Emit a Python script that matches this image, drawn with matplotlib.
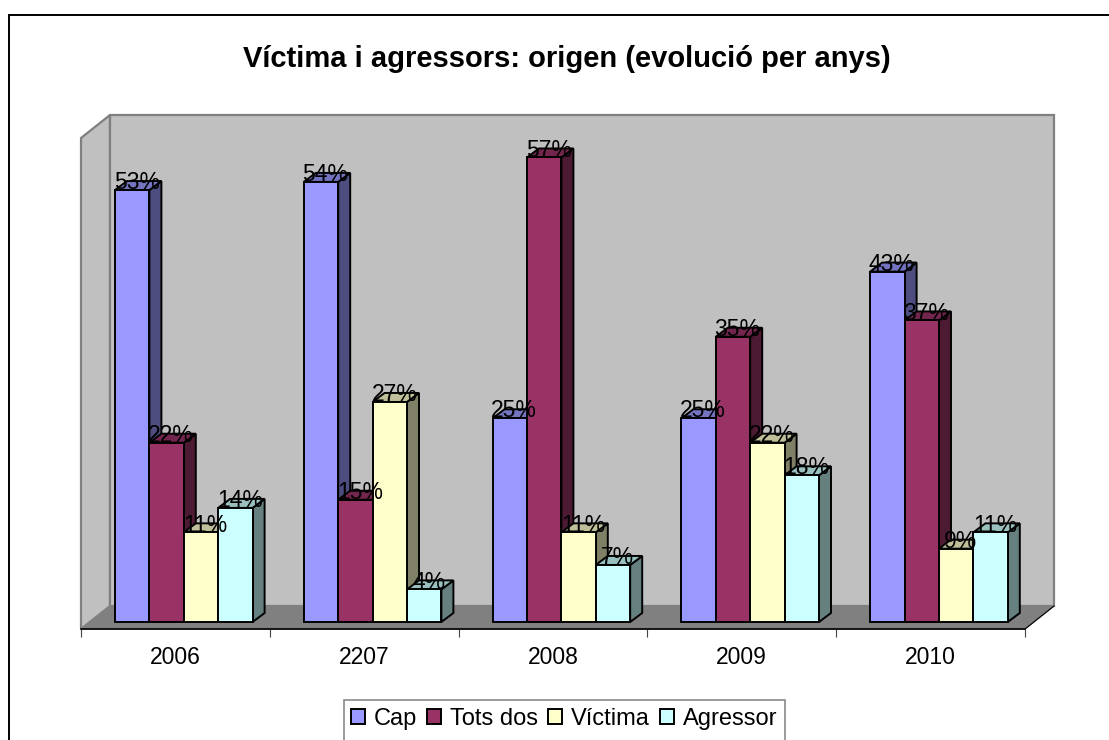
from matplotlib import pyplot as plt
from matplotlib.patches import Patch, Polygon, Rectangle

plt.rcParams["font.family"] = ["Liberation Sans", "DejaVu Sans"]

years = ["2006", "2207", "2008", "2009", "2010"]
series_names = ["Cap", "Tots dos", "Víctima", "Agressor"]
cap = [53, 54, 25, 25, 43]
tots_dos = [22, 15, 57, 35, 37]
victima = [11, 27, 11, 22, 9]
agressor = [14, 4, 7, 18, 11]
series = [cap, tots_dos, victima, agressor]

front_colors = ["#9999FF", "#993366", "#FFFFCC", "#CCFFFF"]
top_colors = ["#7373BF", "#73264D", "#BFBF99", "#99BFBF"]
side_colors = ["#4D4D80", "#4D1A33", "#808066", "#668080"]

W, H = 1109, 740
# axes box in pixels of the picture
left, right, bottom, top = 81, 1025, 629, 138
px_per_pct = 8.15
px_per_cat = (right - left) / 5

fig = plt.figure(figsize=(W / 100, H / 100), dpi=100)
ax = fig.add_axes([left / W, 1 - bottom / H, (right - left) / W, (bottom - top) / H])
ymin = -(bottom - 622) / px_per_pct
ymax = ymin + (bottom - top) / px_per_pct
ax.set_xlim(0, 5)
ax.set_ylim(ymin, ymax)
ax.patch.set_visible(False)

# depth of the box and of the bars
dx = 29 / px_per_cat
dy = 23 / px_per_pct
bar_dx = 12 / px_per_cat
bar_dy = 9 / px_per_pct
bar_w = 34.4 / px_per_cat
start = 34 / px_per_cat
edge = 1.4

# walls and floor
ax.add_patch(Polygon([(0, ymin), (0, ymax), (dx, ymax + dy), (dx, ymin + dy)], closed=True,
                     facecolor="#C0C0C0", edgecolor="#808080", linewidth=1.6, clip_on=False, zorder=1))
ax.add_patch(Rectangle((dx, ymin + dy), 5, ymax - ymin, facecolor="#C0C0C0", edgecolor="#808080",
                       linewidth=1.6, clip_on=False, zorder=1))
ax.add_patch(Polygon([(0, ymin), (5, ymin), (5 + dx, ymin + dy), (dx, ymin + dy)], closed=True,
                     facecolor="#808080", edgecolor="#808080", linewidth=1, clip_on=False, zorder=2))
ax.plot([5, 5 + dx], [ymin, ymin + dy], color="black", linewidth=0.8, clip_on=False, zorder=2)

z = 3
for c in range(len(years)):
    for s in range(len(series)):
        v = series[s][c]
        x0 = c + start + s * bar_w
        x1 = x0 + bar_w
        ax.add_patch(Polygon([(x1, 0), (x1 + bar_dx, bar_dy), (x1 + bar_dx, v + bar_dy), (x1, v)], closed=True,
                             facecolor=side_colors[s], edgecolor="black", linewidth=edge, zorder=z))
        ax.add_patch(Polygon([(x0, v), (x1, v), (x1 + bar_dx, v + bar_dy), (x0 + bar_dx, v + bar_dy)], closed=True,
                             facecolor=top_colors[s], edgecolor="black", linewidth=edge, zorder=z))
        ax.bar(x0, v, width=bar_w, align="edge", color=front_colors[s], edgecolor="black", linewidth=edge, zorder=z + 1)
        z += 2

for c in range(len(years)):
    for s in range(len(series)):
        v = series[s][c]
        x = c + start + (s + 0.5) * bar_w + 4.5 / px_per_cat
        ax.text(x, v + 0.1, "{}%".format(v), ha="center", va="baseline", fontsize=16.5, color="black", zorder=100)

# axis
for name in ["left", "right", "top"]:
    ax.spines[name].set_visible(False)
ax.spines["bottom"].set_linewidth(1.2)
ax.spines["bottom"].set_zorder(50)
ax.set_yticks([])
ax.set_xticks(range(6))
ax.set_xticklabels([])
ax.tick_params(axis="x", which="major", length=5.5, width=0.8, color="#444444")
ax.set_xticks([i + 0.5 for i in range(5)], labels=years, minor=True)
ax.tick_params(axis="x", which="minor", length=0, pad=12, labelsize=16.5)

# chart border, runs off the right and bottom of the picture
fig.add_artist(Rectangle((9 / W, -0.1), 1.1, 1.1 - 15 / H, transform=fig.transFigure,
                         facecolor="none", edgecolor="black", linewidth=1.4, zorder=-5))

fig.text(567 / W, 1 - 59 / H, "Víctima i agressors: origen (evolució per anys)", ha="center", va="center",
         fontsize=21, fontweight="bold")

# legend box, cut by the bottom edge as well
fig.add_artist(Rectangle((344 / W, -0.1), (785 - 344) / W, 0.1 + 1 - 700 / H, transform=fig.transFigure,
                         facecolor="white", edgecolor="#808080", linewidth=1.1, zorder=5))
handles = [Patch(facecolor=front_colors[i], edgecolor="black", linewidth=1.4) for i in range(4)]
leg = fig.legend(handles, series_names, loc="center", bbox_to_anchor=(564 / W, 1 - 719 / H), ncol=4, frameon=False,
                 fontsize=17, handlelength=0.6, handleheight=0.6, handletextpad=0.35, columnspacing=0.45,
                 borderpad=0, borderaxespad=0)
leg.set_zorder(6)

fig.savefig("out.png", dpi=100)
